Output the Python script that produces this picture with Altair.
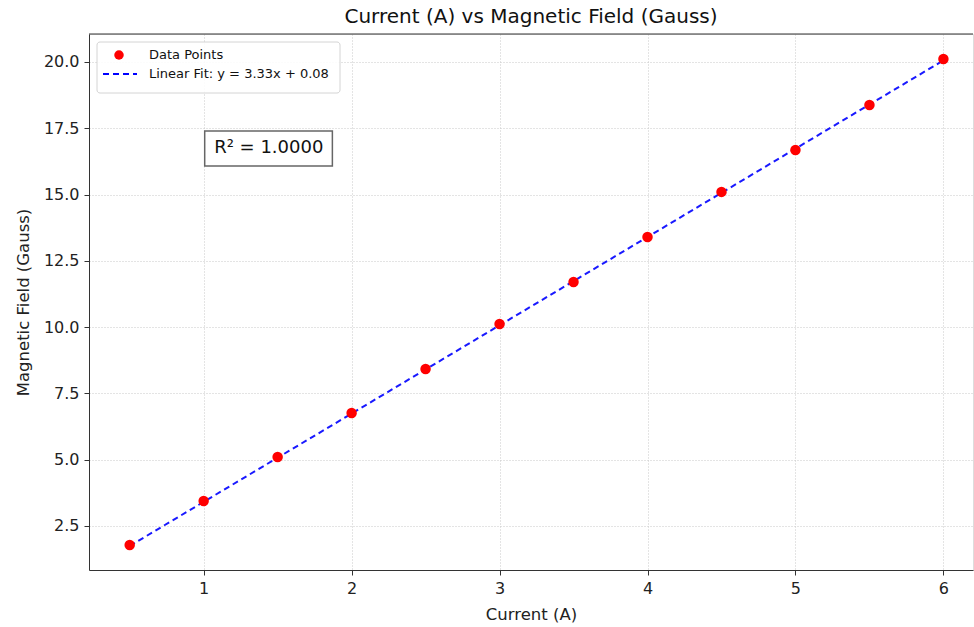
import altair as alt
import pandas as pd

current = [0.5, 1.0, 1.5, 2.0, 2.5, 3.0, 3.5, 4.0, 4.5, 5.0, 5.5, 6.0]
field = [1.78, 3.44, 5.10, 6.76, 8.42, 10.12, 11.70, 13.40, 15.10, 16.68, 18.38, 20.11]
slope = 3.33
intercept = 0.08
fit_x = [0.5, 6.0]
fit_y = [slope * v + intercept for v in fit_x]
x_ticks = [1, 2, 3, 4, 5, 6]
y_ticks = [2.5, 5.0, 7.5, 10.0, 12.5, 15.0, 17.5, 20.0]
r2_label = "R² = 1.0000"
r2_box = {"x": [1.007], "x2": [1.87], "y": [16.08], "y2": [17.40], "tx": [1.44], "ty": [16.74]}
legend_labels = ["Data Points", "Linear Fit: y = 3.33x + 0.08"]

W, H = 884, 536
FONT = "DejaVu Sans"

pts = pd.DataFrame({"x": current, "y": field})
fit = pd.DataFrame({"x": fit_x, "y": fit_y})

xs = alt.Scale(domain=[0.225, 6.2], nice=False, zero=False)
ys = alt.Scale(domain=[0.84, 21.056], nice=False, zero=False)

xax = alt.Axis(values=x_ticks, format="d", title="Current (A)", grid=True,
               gridDash=[1, 2], gridColor="#c8c8c8", gridWidth=1,
               domainColor="#333", tickColor="#333", tickSize=5,
               labelFont=FONT, labelFontSize=16, labelColor="#222", labelPadding=5,
               titleFont=FONT, titleFontSize=16.5, titleFontWeight="normal",
               titleColor="#222", titlePadding=10)
yax = alt.Axis(values=y_ticks, format=".1f", title="Magnetic Field (Gauss)", grid=True,
               gridDash=[1, 2], gridColor="#c8c8c8", gridWidth=1,
               domainColor="#333", tickColor="#333", tickSize=5,
               labelFont=FONT, labelFontSize=16, labelColor="#222", labelPadding=5,
               titleFont=FONT, titleFontSize=16.5, titleFontWeight="normal",
               titleColor="#222", titlePadding=12)

line = alt.Chart(fit).mark_line(color="#0000ff", strokeWidth=2, strokeDash=[6, 4], opacity=0.9).encode(
    x=alt.X("x:Q", scale=xs, axis=xax),
    y=alt.Y("y:Q", scale=ys, axis=yax),
)
points = alt.Chart(pts).mark_circle(color="#ff0000", size=110, opacity=1).encode(
    x=alt.X("x:Q", scale=xs), y=alt.Y("y:Q", scale=ys)
)

box_df = pd.DataFrame(r2_box)
r2_rect = alt.Chart(box_df).mark_rect(fill="white", stroke="#666", strokeWidth=1.5).encode(
    x=alt.X("x:Q", scale=xs), x2="x2:Q", y=alt.Y("y:Q", scale=ys), y2="y2:Q"
)
r2_text = alt.Chart(box_df).mark_text(text=r2_label, font=FONT, fontSize=18, color="#111",
                                       align="center", baseline="middle").encode(
    x=alt.X("tx:Q", scale=xs), y=alt.Y("ty:Q", scale=ys)
)

top_line = alt.Chart(pts.head(1)).mark_rule(color="#333", strokeWidth=1).encode(
    x=alt.value(0), x2=alt.value(W), y=alt.value(0)
)

# manual legend
lg = pd.DataFrame({"label": legend_labels})
leg_box = alt.Chart(lg.head(1)).mark_rect(fill="white", stroke="#d0d0d0", strokeWidth=1,
                                           cornerRadius=3, opacity=0.9).encode(
    x=alt.value(8), x2=alt.value(251), y=alt.value(8), y2=alt.value(59)
)
leg_pt = alt.Chart(lg.head(1)).mark_circle(color="#ff0000", size=90, opacity=1).encode(
    x=alt.value(30), y=alt.value(21)
)
leg_line = alt.Chart(lg.head(1)).mark_rule(color="#0000ff", strokeWidth=2, strokeDash=[6, 4]).encode(
    x=alt.value(14), x2=alt.value(48), y=alt.value(40)
)
leg_t1 = alt.Chart(lg.head(1)).mark_text(text=legend_labels[0], font=FONT, fontSize=13, color="#111",
                                          align="left", baseline="middle").encode(
    x=alt.value(60), y=alt.value(21)
)
leg_t2 = alt.Chart(lg.head(1)).mark_text(text=legend_labels[1], font=FONT, fontSize=13, color="#111",
                                          align="left", baseline="middle").encode(
    x=alt.value(60), y=alt.value(40)
)

chart = alt.layer(line, points, r2_rect, r2_text, top_line,
                  leg_box, leg_pt, leg_line, leg_t1, leg_t2).properties(
    width=W, height=H,
    title=alt.TitleParams("Current (A) vs Magnetic Field (Gauss)", font=FONT, fontSize=20,
                          fontWeight="normal", color="#111", anchor="middle", offset=7),
    autosize=alt.AutoSizeParams(type="none"),
    padding={"left": 89, "top": 34, "right": 1, "bottom": 57},
).configure_view(stroke=None).configure(background="white")

chart.save("out.html", embed_options={"renderer": "svg", "actions": False})
